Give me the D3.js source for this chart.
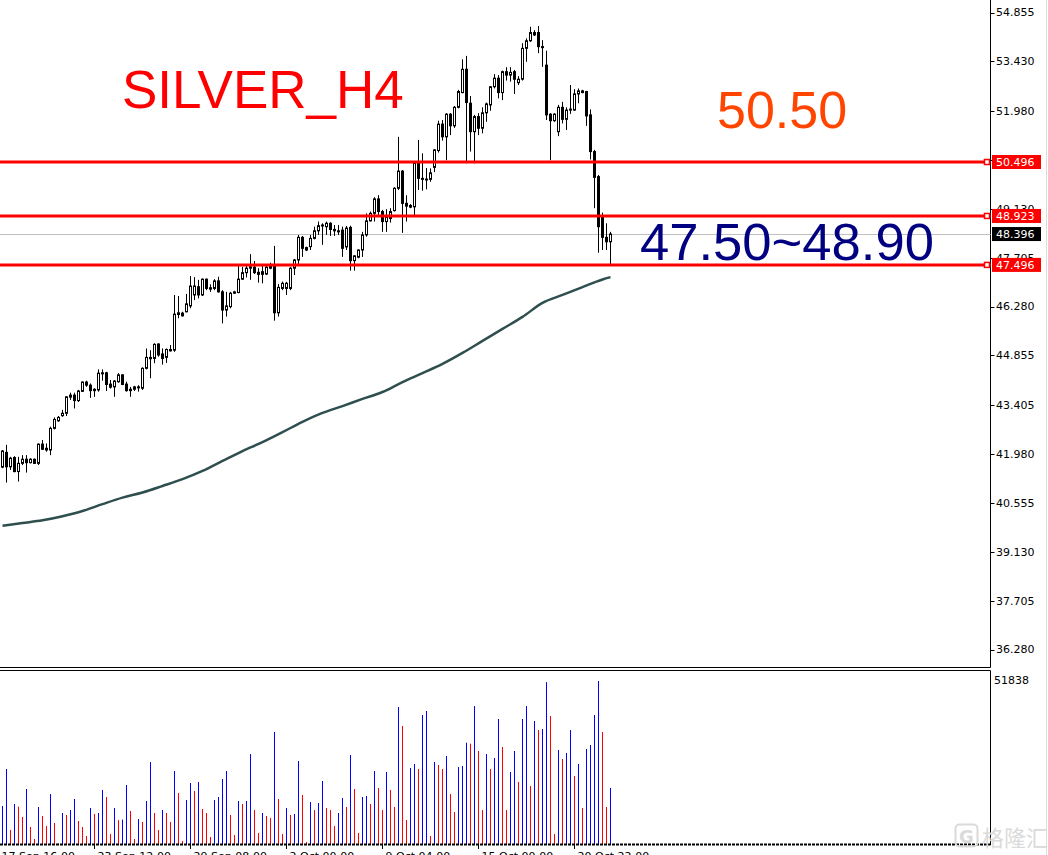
<!DOCTYPE html>
<meta charset="utf-8">
<style>
body { margin: 0; background: #fff; }
svg { display: block; font-family: "DejaVu Sans", sans-serif; }
</style>
<body>
<script src="https://cdn.jsdelivr.net/npm/d3@7"></script>
<script>
var width = 1048, height = 855;

// H4 candles, one per bar (0 = oldest visible bar)
var open = [41.60,42.03,41.61,41.88,41.47,41.71,41.83,41.73,41.83,41.71,
  42.27,42.15,42.10,42.73,42.95,43.10,43.17,43.64,43.70,43.54,
  43.81,44.08,43.99,43.87,43.85,44.34,44.35,44.02,43.94,44.09,
  44.29,44.02,43.87,43.87,43.94,43.90,44.48,44.80,44.77,45.19,
  44.90,44.80,44.99,45.01,46.05,46.09,46.13,46.30,46.62,46.86,
  46.62,47.08,46.83,46.81,47.03,46.71,46.18,46.28,46.67,46.69,
  47.08,47.27,47.40,47.43,47.28,47.22,47.23,47.40,47.49,46.10,
  46.81,46.81,46.81,47.40,47.64,48.30,48.00,48.03,48.27,48.49,
  48.64,48.61,48.71,48.53,48.49,48.51,48.02,48.59,47.62,47.72,
  47.93,48.37,48.78,49.00,49.42,49.05,48.76,48.85,49.08,49.73,
  50.23,49.29,49.23,49.19,50.48,50.02,49.99,49.99,50.34,50.83,
  51.60,51.23,51.89,51.55,52.09,52.52,53.20,52.21,51.38,51.82,
  51.48,51.93,52.16,52.69,52.94,52.52,53.13,53.03,53.13,52.81,
  52.91,53.81,54.03,54.27,54.27,53.86,53.32,51.89,51.70,51.38,
  52.09,51.74,52.01,52.01,52.48,52.57,52.55,51.87,50.80,50.07,
  48.90,48.30,48.17];
var high = [42.10,42.25,41.90,41.92,41.90,41.95,41.95,41.86,41.85,42.29,
  42.39,42.29,42.78,43.05,43.09,43.27,43.67,43.77,43.77,43.85,
  44.10,44.12,44.04,43.90,44.45,44.45,44.38,44.14,44.14,44.34,
  44.31,44.09,43.94,43.97,43.99,44.51,45.06,45.01,45.21,45.21,
  45.06,45.06,45.16,46.62,46.59,46.13,46.65,47.17,47.14,47.06,
  47.10,47.10,46.93,47.08,47.15,46.76,46.71,46.71,46.74,47.47,
  47.44,47.49,47.81,47.61,47.40,47.49,47.46,47.56,48.05,46.94,
  47.01,47.00,47.43,47.67,48.37,48.34,48.03,48.37,48.61,48.76,
  48.71,48.76,48.74,48.66,48.66,48.61,48.63,48.64,47.78,47.95,
  48.46,49.00,49.05,49.47,49.53,49.10,49.12,49.15,49.76,51.23,
  50.26,49.53,49.27,50.50,51.14,50.75,50.32,50.31,50.87,51.70,
  51.72,51.92,51.92,52.13,52.60,53.49,53.59,52.42,51.87,51.92,
  52.09,52.23,52.71,53.06,53.03,53.16,53.26,53.26,53.18,53.00,
  53.96,54.10,54.44,54.34,54.46,54.05,53.74,51.92,51.92,52.16,
  52.25,52.09,52.74,52.62,52.64,52.60,52.57,52.03,50.85,50.12,
  49.02,48.71,48.46];
var low = [41.57,41.15,41.52,41.45,41.18,41.66,41.44,41.71,41.70,41.66,
  42.10,42.05,41.95,42.70,42.92,43.07,43.09,43.56,43.31,43.50,
  43.79,43.94,43.62,43.65,43.80,44.12,43.82,43.89,43.65,44.06,
  43.99,43.80,43.65,43.82,43.80,43.85,44.45,44.19,44.63,44.82,
  44.59,44.64,44.97,44.96,45.94,45.99,46.11,46.23,46.47,46.52,
  46.59,46.76,46.71,46.76,46.69,45.79,45.99,46.23,46.65,46.67,
  47.06,47.13,47.06,47.23,46.98,46.96,47.20,47.37,45.87,45.99,
  46.76,46.62,46.76,47.20,47.49,47.73,47.90,47.93,48.24,48.37,
  48.08,48.37,48.34,48.34,48.37,47.73,47.93,47.33,47.33,47.69,
  47.73,48.32,48.76,48.76,48.95,48.46,48.46,48.73,49.05,49.68,
  48.43,48.76,49.15,48.95,49.68,49.66,49.70,49.92,50.20,50.77,
  51.12,50.55,51.28,51.49,52.06,52.50,50.46,50.80,50.46,51.28,
  51.33,51.67,51.99,52.64,52.35,52.30,52.87,52.84,52.48,52.74,
  52.87,53.42,54.00,54.17,53.67,53.27,51.72,50.55,51.67,51.25,
  51.62,51.43,51.90,51.99,52.21,52.50,51.55,50.57,49.15,47.85,
  47.93,47.93,47.50];
var close = [42.07,41.61,41.86,41.47,41.71,41.83,41.73,41.83,41.71,42.27,
  42.12,42.10,42.73,42.99,43.05,43.17,43.65,43.70,43.54,43.82,
  44.08,43.99,43.83,43.83,44.34,44.35,44.01,43.93,44.11,44.29,
  44.01,43.83,43.83,43.94,43.92,44.48,44.80,44.76,45.18,44.87,
  44.77,45.03,45.03,46.06,46.10,46.01,46.36,46.88,46.88,46.62,
  47.08,46.81,46.79,47.03,46.71,46.18,46.30,46.67,46.71,47.08,
  47.27,47.40,47.44,47.27,47.22,47.30,47.43,47.46,46.10,46.84,
  46.96,46.96,47.40,47.64,48.30,47.98,47.93,48.27,48.49,48.64,
  48.66,48.71,48.53,48.49,48.46,47.98,48.57,47.62,47.76,47.93,
  48.37,48.78,49.00,49.42,49.05,48.76,48.90,49.05,49.73,50.23,
  49.29,49.21,49.18,50.48,50.02,49.99,50.00,50.18,50.85,51.60,
  51.23,51.89,51.55,52.09,52.55,53.20,52.23,51.38,51.82,51.48,
  51.93,52.19,52.69,52.94,52.52,53.13,53.03,53.11,52.91,52.91,
  53.81,54.03,54.27,54.20,53.86,53.84,51.87,51.70,51.89,52.09,
  51.74,52.01,52.04,52.48,52.57,52.52,51.84,50.80,50.05,48.61,
  48.30,48.17,48.396];

// tick volume per bar
var volume = [12084,23850,4452,12720,11872,8586,17490,5406,1590,11766,
  8904,5724,15900,6678,200,9858,9222,10812,14310,7314,
  5406,2544,11448,9540,9858,17172,14946,3180,11448,7600,
  7750,18762,10494,1590,7950,6996,13674,26076,9858,4452,
  10812,9858,6996,23214,16218,954,13992,19398,16854,19716,
  11130,9858,2226,13992,14946,20670,23214,9222,2862,13674,
  12720,13674,28620,10812,3498,9858,8904,8268,35616,14310,
  3180,11448,9222,9540,26394,15582,636,13356,10812,13038,
  20034,11448,10812,5724,9858,14628,11766,28302,17490,3498,
  14946,15264,12720,23214,17808,10812,22896,17172,11766,43566,
  37524,7632,24168,25440,23850,41022,42294,2544,26076,25122,
  23850,27984,15900,10176,24486,24804,32200,31900,43884,29574,
  10812,28620,23850,27348,39750,30846,10812,22896,29574,19716,
  39750,43884,18444,39114,36252,36570,51500,40704,3180,29892,
  27030,28938,36252,21624,25440,11448,30210,31482,41022,51838,
  35616,11766,17808];
var volMax = 51838;

// moving average, read every 5th bar
var maBar = [0,5,10,15,20,25,30,35,40,45,50,55,60,65,70,75,80,85,90,95,
  100,105,110,115,120,125,130,135,140,145,150,152];
var maVal = [39.89,39.97,40.05,40.17,40.32,40.52,40.71,40.86,41.05,41.25,
  41.49,41.78,42.07,42.33,42.62,42.92,43.18,43.38,43.59,43.79,
  44.08,44.34,44.61,44.93,45.28,45.63,45.98,46.39,46.62,46.85,
  47.07,47.14];

var priceTicks = [54.855,53.430,51.980,50.555,49.130,47.705,46.280,44.855,
  43.405,41.980,40.555,39.130,37.705,36.280];
var levels = [50.496, 48.923, 47.496];
var lastPrice = 48.396;

var timeBars = [-1, 23, 47, 71, 95, 119, 143];
var timeLabels = ["17 Sep 16:00","23 Sep 12:00","29 Sep 08:00","2 Oct 00:00",
  "9 Oct 04:00","15 Oct 00:00","20 Oct 22:00"];

var svg = d3.select("body").append("svg")
    .attr("width", width)
    .attr("height", height);

var axisX = 990.5;
var x = d3.scaleLinear().domain([0, 152]).range([2.5, 610.5]);
var y = d3.scaleLinear().domain([36.280, 54.855]).range([649.6, 12.5]);
var yv = d3.scaleLinear().domain([0, volMax]).range([844, 681]);

// frame
svg.append("line").attr("x1", 0).attr("x2", axisX).attr("y1", 667.5).attr("y2", 667.5)
    .attr("stroke", "#000");
svg.append("line").attr("x1", 0).attr("x2", axisX).attr("y1", 670.5).attr("y2", 670.5)
    .attr("stroke", "#000");
svg.append("line").attr("x1", axisX).attr("x2", axisX).attr("y1", 0).attr("y2", 667.5)
    .attr("stroke", "#000");
svg.append("line").attr("x1", axisX).attr("x2", axisX).attr("y1", 670.5).attr("y2", 845)
    .attr("stroke", "#000");
svg.append("line").attr("x1", 1046.5).attr("x2", 1046.5).attr("y1", 0).attr("y2", height)
    .attr("stroke", "#dcdcdc");

// bid line
svg.append("line")
    .attr("x1", 0).attr("x2", axisX)
    .attr("y1", Math.round(y(lastPrice)) + 0.5).attr("y2", Math.round(y(lastPrice)) + 0.5)
    .attr("stroke", "#c0c0c0");

// moving average
var maLine = d3.line()
    .x(function(d, i) { return x(maBar[i]); })
    .y(function(d) { return y(d); })
    .curve(d3.curveMonotoneX);
svg.append("path")
    .datum(maVal)
    .attr("d", maLine)
    .attr("fill", "none")
    .attr("stroke", "#2f4f4f")
    .attr("stroke-width", 2.5);

// candles
var idx = d3.range(open.length);
var candle = svg.selectAll(".candle")
    .data(idx)
  .enter().append("g")
    .attr("class", "candle");
candle.append("line")
    .attr("x1", function(i) { return x(i); })
    .attr("x2", function(i) { return x(i); })
    .attr("y1", function(i) { return y(high[i]); })
    .attr("y2", function(i) { return y(low[i]); })
    .attr("stroke", "#000");
candle.append("rect")
    .attr("x", function(i) { return x(i) - 1; })
    .attr("width", 2)
    .attr("y", function(i) { return y(Math.max(open[i], close[i])); })
    .attr("height", function(i) { return Math.max(1, Math.abs(y(open[i]) - y(close[i]))); })
    .attr("fill", function(i) { return close[i] < open[i] ? "#000" : "#fff"; })
    .attr("stroke", "#000");

// horizontal levels
svg.selectAll(".level")
    .data(levels)
  .enter().append("line")
    .attr("class", "level")
    .attr("x1", 0).attr("x2", axisX)
    .attr("y1", function(d) { return y(d); })
    .attr("y2", function(d) { return y(d); })
    .attr("stroke", "#ff0000")
    .attr("stroke-width", 3);
svg.selectAll(".lvmark")
    .data(levels)
  .enter().append("rect")
    .attr("class", "lvmark")
    .attr("x", 984.5).attr("width", 5)
    .attr("y", function(d) { return y(d) - 2.5; })
    .attr("height", 5)
    .attr("fill", "#fff")
    .attr("stroke", "#ff0000")
    .attr("stroke-width", 1.5);

// price axis
svg.selectAll(".ptick")
    .data(priceTicks)
  .enter().append("line")
    .attr("x1", axisX).attr("x2", axisX + 4)
    .attr("y1", function(d) { return Math.round(y(d)) + 0.5; })
    .attr("y2", function(d) { return Math.round(y(d)) + 0.5; })
    .attr("stroke", "#000");
svg.selectAll(".plabel")
    .data(priceTicks)
  .enter().append("text")
    .attr("x", 996)
    .attr("y", function(d) { return y(d); })
    .attr("dy", "0.35em")
    .attr("font-size", 11)
    .attr("fill", "#000")
    .text(function(d) { return d.toFixed(3); });

// level price boxes
var boxes = levels.map(function(v) { return {v: v, bg: "#ff0000"}; })
    .concat([{v: lastPrice, bg: "#000"}]);
svg.selectAll(".pbox")
    .data(boxes)
  .enter().append("rect")
    .attr("x", 992).attr("width", 49)
    .attr("y", function(d) { return y(d.v) - 7; })
    .attr("height", 14)
    .attr("fill", function(d) { return d.bg; });
svg.selectAll(".pboxt")
    .data(boxes)
  .enter().append("text")
    .attr("x", 996)
    .attr("y", function(d) { return y(d.v); })
    .attr("dy", "0.35em")
    .attr("font-size", 11)
    .attr("fill", "#fff")
    .text(function(d) { return d.v.toFixed(3); });

// volumes
svg.selectAll(".vol")
    .data(idx)
  .enter().append("line")
    .attr("x1", function(i) { return x(i); })
    .attr("x2", function(i) { return x(i); })
    .attr("y1", yv(0))
    .attr("y2", function(i) { return yv(volume[i]); })
    .attr("stroke", function(i) { return i > 0 && volume[i] < volume[i - 1] ? "#ff0000" : "#0000ff"; });
svg.append("line")
    .attr("x1", 0).attr("x2", axisX)
    .attr("y1", 844.5).attr("y2", 844.5)
    .attr("stroke", "#000")
    .attr("stroke-width", 2)
    .attr("stroke-dasharray", "3,1");
svg.append("text")
    .attr("x", 994).attr("y", 680)
    .attr("dy", "0.35em")
    .attr("font-size", 11)
    .text(volMax);

// time axis
svg.selectAll(".ttick")
    .data(timeBars)
  .enter().append("line")
    .attr("x1", function(d) { return Math.round(x(d)) - 0.5; })
    .attr("x2", function(d) { return Math.round(x(d)) - 0.5; })
    .attr("y1", 845).attr("y2", 849)
    .attr("stroke", "#000");
svg.selectAll(".tlabel")
    .data(timeBars)
  .enter().append("text")
    .attr("x", function(d) { return x(d) + 3; })
    .attr("y", 860)
    .attr("font-size", 11)
    .text(function(d, i) { return timeLabels[i]; });

// annotations
var big = "'Liberation Sans', Arial, sans-serif";
svg.append("text").attr("x", 122).attr("y", 108)
    .style("font-family", big).attr("font-size", 53)
    .attr("fill", "#ff0000").text("SILVER_H4");
svg.append("text").attr("x", 717).attr("y", 128)
    .style("font-family", big).attr("font-size", 52)
    .attr("fill", "#ff4500").text("50.50");
svg.append("text").attr("x", 640).attr("y", 260)
    .style("font-family", big).attr("font-size", 52.6)
    .attr("fill", "#000080").text("47.50~48.90");

// watermark
svg.append("rect").attr("x", 955.5).attr("y", 824.5).attr("width", 22).attr("height", 22)
    .attr("rx", 4).attr("fill", "none").attr("stroke", "#dadada").attr("stroke-width", 2);
svg.append("text").attr("x", 966.5).attr("y", 843)
    .attr("text-anchor", "middle").attr("font-size", 18).attr("font-weight", "bold")
    .attr("fill", "#dadada").text("G");
svg.append("text").attr("x", 982).attr("y", 846)
    .style("font-family", "'Noto Sans CJK SC', sans-serif").attr("font-size", 22)
    .attr("fill", "#dadada").text("格隆汇");
</script>
